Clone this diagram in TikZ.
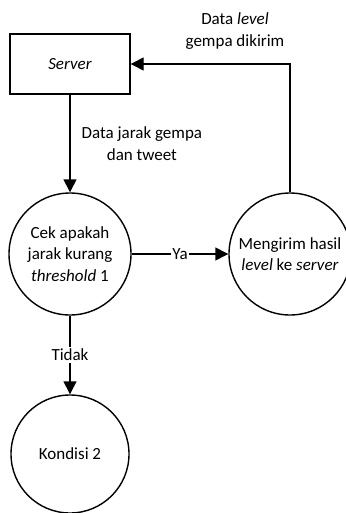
\documentclass[tikz,border=0pt]{standalone}
\usepackage{fontspec}
\setmainfont{Carlito}
\usetikzlibrary{arrows.meta}
\begin{document}
\begin{tikzpicture}[x=1pt,y=-1pt,
  every node/.style={font=\fontsize{17}{21.5}\selectfont, align=center, inner sep=0pt},
  line/.style={line width=1.4pt},
  flow/.style={line, -{Triangle[length=13pt,width=13pt]}},
  proc/.style={line, draw, circle, minimum size=122pt},
  store/.style={line, draw, minimum width=120pt, minimum height=60pt}]
\useasboundingbox (0,0) rectangle (345,513);
\node[store] (server) at (70,64) {\textit{Server}};
\node[proc] (cek) at (70,254) {Cek apakah\\jarak kurang\\\textit{threshold} 1};
\node[proc] (kirim) at (290,254) {Mengirim hasil\\\textit{level} ke \textit{server}};
\node[proc, minimum size=118pt] (k2) at (70,454) {Kondisi 2};
\coordinate (corner) at (kirim.north |- server.east);
\draw[flow] (server) -- node[right=11pt] {Data jarak gempa\\dan tweet} (cek);
\draw[flow] (cek) -- node[fill=white, inner sep=1pt] {Ya} (kirim);
\draw[flow] (kirim.north) -- (corner) -- (server.east);
\node at (235,31) {Data \textit{level}\\gempa dikirim};
\draw[flow] (cek) -- node[fill=white, inner sep=2pt, pos=0.5] {Tidak} (k2);
\end{tikzpicture}
\end{document}
